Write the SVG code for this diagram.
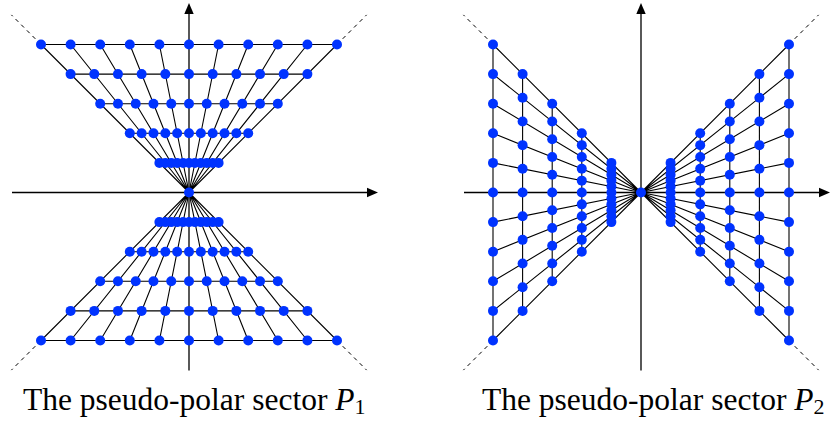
<svg xmlns="http://www.w3.org/2000/svg" width="831" height="423" viewBox="0 0 831 423">
<style>
.ax{stroke:#000;stroke-width:1.3;fill:none}
.ln{stroke:#000;stroke-width:1.1;fill:none}
.ds{stroke:#000;stroke-width:1;fill:none;stroke-dasharray:4 4}
.ah{fill:#000}
.p{fill:#0033ff}
.t{font-family:"Liberation Serif","Times New Roman",serif;font-size:31.5px;fill:#000}
</style>
<rect width="831" height="423" fill="#fff"/>
<g id="axes">
<path class="ax" d="M12 192.5H368M189 370.5V13M464 192.5H820M641 370.5V13"/>
<polygon class="ah" points="378,192.5 367,187.8 367,197.2"/>
<polygon class="ah" points="189,3 184.3,14 193.7,14"/>
<polygon class="ah" points="830,192.5 819,187.8 819,197.2"/>
<polygon class="ah" points="641,3 636.3,14 645.7,14"/>
</g>
<g id="connectors">
<path class="ln" d="M189 192.5L41 44.5M189 192.5L70.6 44.5M189 192.5L100.2 44.5M189 192.5L129.8 44.5M189 192.5L159.4 44.5M189 192.5L218.6 44.5M189 192.5L248.2 44.5M189 192.5L277.8 44.5M189 192.5L307.4 44.5M189 192.5L337 44.5
M189 192.5L41 340.5M189 192.5L70.6 340.5M189 192.5L100.2 340.5M189 192.5L129.8 340.5M189 192.5L159.4 340.5M189 192.5L218.6 340.5M189 192.5L248.2 340.5M189 192.5L277.8 340.5M189 192.5L307.4 340.5M189 192.5L337 340.5
M41 44.5H337M70.6 74.1H307.4M100.2 103.7H277.8M129.8 133.3H248.2M159.4 162.9H218.6
M41 340.5H337M70.6 310.9H307.4M100.2 281.3H277.8M129.8 251.7H248.2M159.4 222.1H218.6"/>
<path class="ln" d="M641 192.5L493 44.5M641 192.5L493 74.1M641 192.5L493 103.7M641 192.5L493 133.3M641 192.5L493 162.9M641 192.5L493 192.5M641 192.5L493 222.1M641 192.5L493 251.7M641 192.5L493 281.3M641 192.5L493 310.9M641 192.5L493 340.5
M641 192.5L789 44.5M641 192.5L789 74.1M641 192.5L789 103.7M641 192.5L789 133.3M641 192.5L789 162.9M641 192.5L789 192.5M641 192.5L789 222.1M641 192.5L789 251.7M641 192.5L789 281.3M641 192.5L789 310.9M641 192.5L789 340.5
M493 44.5V340.5M522.6 74.1V310.9M552.2 103.7V281.3M581.8 133.3V251.7M611.4 162.9V222.1
M789 44.5V340.5M759.4 74.1V310.9M729.8 103.7V281.3M700.2 133.3V251.7M670.6 162.9V222.1"/>
<path class="ds" d="M41 44.5L11.4 14.9M337 44.5L366.6 14.9M41 340.5L11.4 370.1M337 340.5L366.6 370.1M493 44.5L463.4 14.9M789 44.5L818.6 14.9M493 340.5L463.4 370.1M789 340.5L818.6 370.1"/>
</g>
<g id="sector-P1-points">
<circle class="p" cx="189" cy="192.5" r="5"/>
<circle class="p" cx="41" cy="44.5" r="5"/><circle class="p" cx="70.6" cy="44.5" r="5"/><circle class="p" cx="100.2" cy="44.5" r="5"/><circle class="p" cx="129.8" cy="44.5" r="5"/><circle class="p" cx="159.4" cy="44.5" r="5"/><circle class="p" cx="189" cy="44.5" r="5"/><circle class="p" cx="218.6" cy="44.5" r="5"/><circle class="p" cx="248.2" cy="44.5" r="5"/><circle class="p" cx="277.8" cy="44.5" r="5"/><circle class="p" cx="307.4" cy="44.5" r="5"/><circle class="p" cx="337" cy="44.5" r="5"/>
<circle class="p" cx="70.6" cy="74.1" r="5"/><circle class="p" cx="94.28" cy="74.1" r="5"/><circle class="p" cx="117.96" cy="74.1" r="5"/><circle class="p" cx="141.64" cy="74.1" r="5"/><circle class="p" cx="165.32" cy="74.1" r="5"/><circle class="p" cx="189" cy="74.1" r="5"/><circle class="p" cx="212.68" cy="74.1" r="5"/><circle class="p" cx="236.36" cy="74.1" r="5"/><circle class="p" cx="260.04" cy="74.1" r="5"/><circle class="p" cx="283.72" cy="74.1" r="5"/><circle class="p" cx="307.4" cy="74.1" r="5"/>
<circle class="p" cx="100.2" cy="103.7" r="5"/><circle class="p" cx="117.96" cy="103.7" r="5"/><circle class="p" cx="135.72" cy="103.7" r="5"/><circle class="p" cx="153.48" cy="103.7" r="5"/><circle class="p" cx="171.24" cy="103.7" r="5"/><circle class="p" cx="189" cy="103.7" r="5"/><circle class="p" cx="206.76" cy="103.7" r="5"/><circle class="p" cx="224.52" cy="103.7" r="5"/><circle class="p" cx="242.28" cy="103.7" r="5"/><circle class="p" cx="260.04" cy="103.7" r="5"/><circle class="p" cx="277.8" cy="103.7" r="5"/>
<circle class="p" cx="129.8" cy="133.3" r="5"/><circle class="p" cx="141.64" cy="133.3" r="5"/><circle class="p" cx="153.48" cy="133.3" r="5"/><circle class="p" cx="165.32" cy="133.3" r="5"/><circle class="p" cx="177.16" cy="133.3" r="5"/><circle class="p" cx="189" cy="133.3" r="5"/><circle class="p" cx="200.84" cy="133.3" r="5"/><circle class="p" cx="212.68" cy="133.3" r="5"/><circle class="p" cx="224.52" cy="133.3" r="5"/><circle class="p" cx="236.36" cy="133.3" r="5"/><circle class="p" cx="248.2" cy="133.3" r="5"/>
<circle class="p" cx="159.4" cy="162.9" r="5"/><circle class="p" cx="165.32" cy="162.9" r="5"/><circle class="p" cx="171.24" cy="162.9" r="5"/><circle class="p" cx="177.16" cy="162.9" r="5"/><circle class="p" cx="183.08" cy="162.9" r="5"/><circle class="p" cx="189" cy="162.9" r="5"/><circle class="p" cx="194.92" cy="162.9" r="5"/><circle class="p" cx="200.84" cy="162.9" r="5"/><circle class="p" cx="206.76" cy="162.9" r="5"/><circle class="p" cx="212.68" cy="162.9" r="5"/><circle class="p" cx="218.6" cy="162.9" r="5"/>
<circle class="p" cx="41" cy="340.5" r="5"/><circle class="p" cx="70.6" cy="340.5" r="5"/><circle class="p" cx="100.2" cy="340.5" r="5"/><circle class="p" cx="129.8" cy="340.5" r="5"/><circle class="p" cx="159.4" cy="340.5" r="5"/><circle class="p" cx="189" cy="340.5" r="5"/><circle class="p" cx="218.6" cy="340.5" r="5"/><circle class="p" cx="248.2" cy="340.5" r="5"/><circle class="p" cx="277.8" cy="340.5" r="5"/><circle class="p" cx="307.4" cy="340.5" r="5"/><circle class="p" cx="337" cy="340.5" r="5"/>
<circle class="p" cx="70.6" cy="310.9" r="5"/><circle class="p" cx="94.28" cy="310.9" r="5"/><circle class="p" cx="117.96" cy="310.9" r="5"/><circle class="p" cx="141.64" cy="310.9" r="5"/><circle class="p" cx="165.32" cy="310.9" r="5"/><circle class="p" cx="189" cy="310.9" r="5"/><circle class="p" cx="212.68" cy="310.9" r="5"/><circle class="p" cx="236.36" cy="310.9" r="5"/><circle class="p" cx="260.04" cy="310.9" r="5"/><circle class="p" cx="283.72" cy="310.9" r="5"/><circle class="p" cx="307.4" cy="310.9" r="5"/>
<circle class="p" cx="100.2" cy="281.3" r="5"/><circle class="p" cx="117.96" cy="281.3" r="5"/><circle class="p" cx="135.72" cy="281.3" r="5"/><circle class="p" cx="153.48" cy="281.3" r="5"/><circle class="p" cx="171.24" cy="281.3" r="5"/><circle class="p" cx="189" cy="281.3" r="5"/><circle class="p" cx="206.76" cy="281.3" r="5"/><circle class="p" cx="224.52" cy="281.3" r="5"/><circle class="p" cx="242.28" cy="281.3" r="5"/><circle class="p" cx="260.04" cy="281.3" r="5"/><circle class="p" cx="277.8" cy="281.3" r="5"/>
<circle class="p" cx="129.8" cy="251.7" r="5"/><circle class="p" cx="141.64" cy="251.7" r="5"/><circle class="p" cx="153.48" cy="251.7" r="5"/><circle class="p" cx="165.32" cy="251.7" r="5"/><circle class="p" cx="177.16" cy="251.7" r="5"/><circle class="p" cx="189" cy="251.7" r="5"/><circle class="p" cx="200.84" cy="251.7" r="5"/><circle class="p" cx="212.68" cy="251.7" r="5"/><circle class="p" cx="224.52" cy="251.7" r="5"/><circle class="p" cx="236.36" cy="251.7" r="5"/><circle class="p" cx="248.2" cy="251.7" r="5"/>
<circle class="p" cx="159.4" cy="222.1" r="5"/><circle class="p" cx="165.32" cy="222.1" r="5"/><circle class="p" cx="171.24" cy="222.1" r="5"/><circle class="p" cx="177.16" cy="222.1" r="5"/><circle class="p" cx="183.08" cy="222.1" r="5"/><circle class="p" cx="189" cy="222.1" r="5"/><circle class="p" cx="194.92" cy="222.1" r="5"/><circle class="p" cx="200.84" cy="222.1" r="5"/><circle class="p" cx="206.76" cy="222.1" r="5"/><circle class="p" cx="212.68" cy="222.1" r="5"/><circle class="p" cx="218.6" cy="222.1" r="5"/>
</g>
<g id="sector-P2-points">
<circle class="p" cx="641" cy="192.5" r="5"/>
<circle class="p" cx="493" cy="44.5" r="5"/><circle class="p" cx="493" cy="74.1" r="5"/><circle class="p" cx="493" cy="103.7" r="5"/><circle class="p" cx="493" cy="133.3" r="5"/><circle class="p" cx="493" cy="162.9" r="5"/><circle class="p" cx="493" cy="192.5" r="5"/><circle class="p" cx="493" cy="222.1" r="5"/><circle class="p" cx="493" cy="251.7" r="5"/><circle class="p" cx="493" cy="281.3" r="5"/><circle class="p" cx="493" cy="310.9" r="5"/><circle class="p" cx="493" cy="340.5" r="5"/>
<circle class="p" cx="522.6" cy="74.1" r="5"/><circle class="p" cx="522.6" cy="97.78" r="5"/><circle class="p" cx="522.6" cy="121.46" r="5"/><circle class="p" cx="522.6" cy="145.14" r="5"/><circle class="p" cx="522.6" cy="168.82" r="5"/><circle class="p" cx="522.6" cy="192.5" r="5"/><circle class="p" cx="522.6" cy="216.18" r="5"/><circle class="p" cx="522.6" cy="239.86" r="5"/><circle class="p" cx="522.6" cy="263.54" r="5"/><circle class="p" cx="522.6" cy="287.22" r="5"/><circle class="p" cx="522.6" cy="310.9" r="5"/>
<circle class="p" cx="552.2" cy="103.7" r="5"/><circle class="p" cx="552.2" cy="121.46" r="5"/><circle class="p" cx="552.2" cy="139.22" r="5"/><circle class="p" cx="552.2" cy="156.98" r="5"/><circle class="p" cx="552.2" cy="174.74" r="5"/><circle class="p" cx="552.2" cy="192.5" r="5"/><circle class="p" cx="552.2" cy="210.26" r="5"/><circle class="p" cx="552.2" cy="228.02" r="5"/><circle class="p" cx="552.2" cy="245.78" r="5"/><circle class="p" cx="552.2" cy="263.54" r="5"/><circle class="p" cx="552.2" cy="281.3" r="5"/>
<circle class="p" cx="581.8" cy="133.3" r="5"/><circle class="p" cx="581.8" cy="145.14" r="5"/><circle class="p" cx="581.8" cy="156.98" r="5"/><circle class="p" cx="581.8" cy="168.82" r="5"/><circle class="p" cx="581.8" cy="180.66" r="5"/><circle class="p" cx="581.8" cy="192.5" r="5"/><circle class="p" cx="581.8" cy="204.34" r="5"/><circle class="p" cx="581.8" cy="216.18" r="5"/><circle class="p" cx="581.8" cy="228.02" r="5"/><circle class="p" cx="581.8" cy="239.86" r="5"/><circle class="p" cx="581.8" cy="251.7" r="5"/>
<circle class="p" cx="611.4" cy="162.9" r="5"/><circle class="p" cx="611.4" cy="168.82" r="5"/><circle class="p" cx="611.4" cy="174.74" r="5"/><circle class="p" cx="611.4" cy="180.66" r="5"/><circle class="p" cx="611.4" cy="186.58" r="5"/><circle class="p" cx="611.4" cy="192.5" r="5"/><circle class="p" cx="611.4" cy="198.42" r="5"/><circle class="p" cx="611.4" cy="204.34" r="5"/><circle class="p" cx="611.4" cy="210.26" r="5"/><circle class="p" cx="611.4" cy="216.18" r="5"/><circle class="p" cx="611.4" cy="222.1" r="5"/>
<circle class="p" cx="789" cy="44.5" r="5"/><circle class="p" cx="789" cy="74.1" r="5"/><circle class="p" cx="789" cy="103.7" r="5"/><circle class="p" cx="789" cy="133.3" r="5"/><circle class="p" cx="789" cy="162.9" r="5"/><circle class="p" cx="789" cy="192.5" r="5"/><circle class="p" cx="789" cy="222.1" r="5"/><circle class="p" cx="789" cy="251.7" r="5"/><circle class="p" cx="789" cy="281.3" r="5"/><circle class="p" cx="789" cy="310.9" r="5"/><circle class="p" cx="789" cy="340.5" r="5"/>
<circle class="p" cx="759.4" cy="74.1" r="5"/><circle class="p" cx="759.4" cy="97.78" r="5"/><circle class="p" cx="759.4" cy="121.46" r="5"/><circle class="p" cx="759.4" cy="145.14" r="5"/><circle class="p" cx="759.4" cy="168.82" r="5"/><circle class="p" cx="759.4" cy="192.5" r="5"/><circle class="p" cx="759.4" cy="216.18" r="5"/><circle class="p" cx="759.4" cy="239.86" r="5"/><circle class="p" cx="759.4" cy="263.54" r="5"/><circle class="p" cx="759.4" cy="287.22" r="5"/><circle class="p" cx="759.4" cy="310.9" r="5"/>
<circle class="p" cx="729.8" cy="103.7" r="5"/><circle class="p" cx="729.8" cy="121.46" r="5"/><circle class="p" cx="729.8" cy="139.22" r="5"/><circle class="p" cx="729.8" cy="156.98" r="5"/><circle class="p" cx="729.8" cy="174.74" r="5"/><circle class="p" cx="729.8" cy="192.5" r="5"/><circle class="p" cx="729.8" cy="210.26" r="5"/><circle class="p" cx="729.8" cy="228.02" r="5"/><circle class="p" cx="729.8" cy="245.78" r="5"/><circle class="p" cx="729.8" cy="263.54" r="5"/><circle class="p" cx="729.8" cy="281.3" r="5"/>
<circle class="p" cx="700.2" cy="133.3" r="5"/><circle class="p" cx="700.2" cy="145.14" r="5"/><circle class="p" cx="700.2" cy="156.98" r="5"/><circle class="p" cx="700.2" cy="168.82" r="5"/><circle class="p" cx="700.2" cy="180.66" r="5"/><circle class="p" cx="700.2" cy="192.5" r="5"/><circle class="p" cx="700.2" cy="204.34" r="5"/><circle class="p" cx="700.2" cy="216.18" r="5"/><circle class="p" cx="700.2" cy="228.02" r="5"/><circle class="p" cx="700.2" cy="239.86" r="5"/><circle class="p" cx="700.2" cy="251.7" r="5"/>
<circle class="p" cx="670.6" cy="162.9" r="5"/><circle class="p" cx="670.6" cy="168.82" r="5"/><circle class="p" cx="670.6" cy="174.74" r="5"/><circle class="p" cx="670.6" cy="180.66" r="5"/><circle class="p" cx="670.6" cy="186.58" r="5"/><circle class="p" cx="670.6" cy="192.5" r="5"/><circle class="p" cx="670.6" cy="198.42" r="5"/><circle class="p" cx="670.6" cy="204.34" r="5"/><circle class="p" cx="670.6" cy="210.26" r="5"/><circle class="p" cx="670.6" cy="216.18" r="5"/><circle class="p" cx="670.6" cy="222.1" r="5"/>
</g>
<g id="captions">
<text class="t" x="23" y="410">The pseudo-polar sector <tspan font-style="italic">P</tspan><tspan font-size="22" dy="4">1</tspan></text>
<text class="t" x="482" y="410">The pseudo-polar sector <tspan font-style="italic">P</tspan><tspan font-size="22" dy="4">2</tspan></text>
</g>
</svg>
